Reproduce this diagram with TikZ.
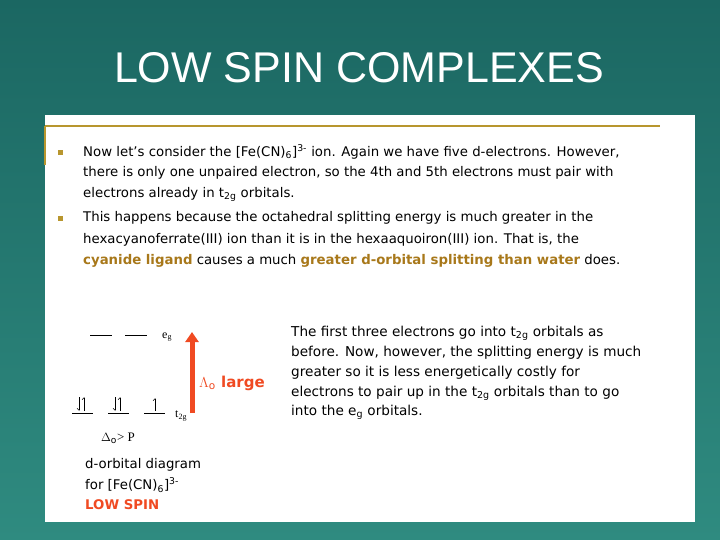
\documentclass[tikz,border=0pt]{standalone}
\usepackage{fontspec}
\usetikzlibrary{arrows.meta}
\setmainfont{DejaVu Sans}
\newfontfamily\titlefont{Liberation Sans}
\newfontfamily\serfont{Liberation Serif}
\definecolor{bgA}{HTML}{1B6762}
\definecolor{bgB}{HTML}{2F8B80}
\definecolor{gold}{HTML}{B8962E}
\definecolor{brn}{HTML}{A8781A}
\definecolor{redA}{HTML}{F04A22}
\begin{document}
\begin{tikzpicture}[x=1pt,y=-1pt,
  body/.style={anchor=west,inner sep=0pt,font=\fontsize{13.3}{15}\selectfont},
  lvl/.style={line width=0.8pt},
  spin/.style={line width=0.6pt,-{Straight Barb[left,length=2pt]}},
  spind/.style={line width=0.6pt,-{Straight Barb[right,length=2pt]}}]
\useasboundingbox (0,0) rectangle (720,540);
\shade[top color=bgA,bottom color=bgB] (0,0) rectangle (720,540);
\node[text=white,font=\titlefont\fontsize{43}{48}\selectfont] (title) at (359,68) {LOW SPIN COMPLEXES};
\fill[white] (45,115) rectangle (695,522);
\draw[gold,line width=1.5pt] (45,126) -- (660,126);
\draw[gold,line width=1.5pt] (45,126) -- (45,165);
\fill[gold] (58,150) rectangle (63,155);
\fill[gold] (58,216) rectangle (63,221);
\node[body] (l1) at (83,152) {Now let's consider the [Fe(CN)\textsubscript{6}]\textsuperscript{3-} ion. Again we have five d-electrons. However,};
\node[body] (l2) at (83,173) {there is only one unpaired electron, so the 4th and 5th electrons must pair with};
\node[body] (l3) at (83,194) {electrons already in t\textsubscript{2g} orbitals.};
\node[body] (l4) at (83,218) {This happens because the octahedral splitting energy is much greater in the};
\node[body] (l5) at (83,240) {hexacyanoferrate(III) ion than it is in the hexaaquoiron(III) ion. That is, the};
\node[body] (l6) at (83,261) {\textcolor{brn}{\bfseries cyanide ligand} causes a much \textcolor{brn}{\bfseries greater d-orbital splitting than water} does.};
\node[body,font=\fontsize{13.6}{15}\selectfont] (r1) at (291,333) {The first three electrons go into t\textsubscript{2g} orbitals as};
\node[body,font=\fontsize{13.6}{15}\selectfont] (r2) at (291,353) {before. Now, however, the splitting energy is much};
\node[body,font=\fontsize{13.6}{15}\selectfont] (r3) at (291,373) {greater so it is less energetically costly for};
\node[body,font=\fontsize{13.6}{15}\selectfont] (r4) at (291,393) {electrons to pair up in the t\textsubscript{2g} orbitals than to go};
\node[body,font=\fontsize{13.6}{15}\selectfont] (r5) at (291,412) {into the e\textsubscript{g} orbitals.};
% levels
\draw[lvl] (90,335) -- (112,335);
\draw[lvl] (125,335) -- (147,335);
\node[anchor=west,inner sep=0pt,font=\serfont\fontsize{12}{13}\selectfont] (eg) at (162,337) {e\textsubscript{g}};
\draw[lvl] (72,413) -- (93,413);
\draw[lvl] (108,413) -- (129,413);
\draw[lvl] (144,413) -- (165,413);
\node[anchor=west,inner sep=0pt,font=\serfont\fontsize{12}{13}\selectfont] (tg) at (175,416) {t\textsubscript{2g}};
\draw[spin] (84,411) -- (84,397);
\draw[spind] (79,397) -- (79,411);
\draw[spin] (120,411) -- (120,397);
\draw[spind] (115,397) -- (115,411);
\draw[spin] (155,411) -- (155,398);
\coordinate (ab) at (192,413); \coordinate (at) at (192,332);
\draw[redA,line width=5pt,-{Triangle[length=10pt,width=13pt]}] (ab) -- (at);
\node[anchor=west,inner sep=0pt,text=redA,font=\bfseries\fontsize{15}{17}\selectfont] (dl) at (199,383) {$\Lambda_{\mathrm o}$ large};
\node[anchor=west,inner sep=0pt,font=\serfont\fontsize{13}{14}\selectfont] (dp) at (101,438) {$\Delta_{\mathrm o}$> P};
\node[body] (c1) at (85,465) {d-orbital diagram};
\node[body] (c2) at (85,485) {for [Fe(CN)\textsubscript{6}]\textsuperscript{3-}};
\node[body,text=redA,font=\bfseries\fontsize{13.3}{15}\selectfont] (c3) at (85,505) {LOW SPIN};
\end{tikzpicture}
\end{document}
